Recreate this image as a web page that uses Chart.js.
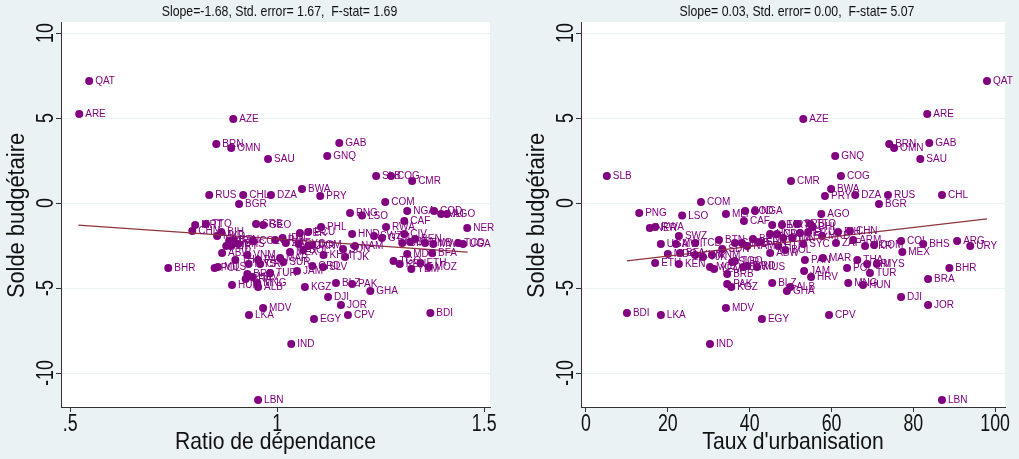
<!DOCTYPE html>
<html>
<head>
<meta charset="utf-8">
<script src="https://cdn.jsdelivr.net/npm/chart.js@4.4.0/dist/chart.umd.min.js"></script>
<style>
html, body { margin: 0; padding: 0; background: #EAF2F3; }
#wrap { position: relative; width: 1019px; height: 459px; overflow: hidden; }
canvas { position: absolute; top: 0; }
#c1 { left: 0; }
#c2 { left: 510px; }
</style>
</head>
<body>
<div id="wrap">
  <canvas id="c1" width="510" height="459"></canvas>
  <canvas id="c2" width="509" height="459"></canvas>
</div>
<script>
// pays (codes ISO)
const codes = ['QAT','ARE','AZE','BRN','OMN','GAB','SAU','GNQ','SLB','COG','CMR','BWA','PRY','RUS','CHL','DZA','BGR','COM','NGA','COD',
  'MLI','AGO','PNG','LSO','CAF','NER','RWA','PHL','MRT','TTO','CHN','BIH','MKD','SRB','GEO','ECU','PER','HND','SWZ','GTM',
  'CIV','BEN','GIN','SEN','ZMB','MWI','TCD','UGA','NAM','SDN','TJK','MDG','BFA','TGO','KEN','YEM','ETH','MOZ','SLV','GRD',
  'JAM','TUR','CRI','MYS','MUS','POL','HRV','BRB','BRA','MNG','HUN','ALB','KGZ','BLZ','PAK','GHA','DJI','JOR','MDV','LKA',
  'EGY','CPV','BDI','IND','LBN','BHR','COL','BHS','ARG','ABW','URY','VNM','THA','PAN','MAR','MEX','BOL','KHM','SUR','ARM',
  'IDN','SYC','DOM','UKR','ZAF','HTI','BTN'];

const ratioDep = [0.546,0.522,0.894,0.853,0.889,1.150,0.978,1.121,1.239,1.275,1.326,1.060,1.104,0.836,0.918,0.985,0.908,1.261,1.314,1.379,
  1.396,1.410,1.176,1.205,1.307,1.459,1.263,1.106,0.802,0.828,0.795,0.865,0.855,0.949,0.966,1.075,1.055,1.181,1.234,1.253,
  1.307,1.333,1.302,1.321,1.357,1.377,1.437,1.449,1.188,1.159,1.164,1.314,1.374,1.281,1.296,1.324,1.346,1.366,1.111,1.085,
  1.048,0.983,0.959,0.931,0.857,0.849,0.940,0.928,0.924,0.952,0.891,0.954,1.067,1.142,1.181,1.225,1.123,1.154,0.966,0.932,
  1.089,1.171,1.370,1.034,0.954,0.737,0.942,0.906,0.884,0.867,0.889,0.928,0.899,0.954,1.007,1.031,1.063,1.112,1.015,0.995,
  1.013,1.052,1.085,1.075,1.021,0.877,0.894];

const tauxUrb = [98.0,83.4,53.1,74.1,75.3,83.9,81.7,60.9,5.1,62.3,50.1,59.9,58.4,73.8,87.0,65.8,71.6,28.1,41.3,38.9,
  34.2,57.5,13.0,23.5,38.6,15.6,16.9,55.3,47.9,54.8,64.5,61.6,57.7,51.8,45.5,54.3,52.3,45.0,22.7,48.2,
  46.7,40.8,36.4,42.5,38.1,22.0,26.7,18.3,39.4,33.3,28.6,20.0,23.0,36.4,22.7,31.3,16.9,30.3,38.4,39.4,
  53.3,69.4,68.7,71.1,41.8,63.8,55.0,34.5,83.6,64.1,67.7,49.9,35.5,45.5,34.5,49.1,77.0,83.6,34.2,18.3,
  43.0,59.4,10.0,30.3,87.0,88.8,77.0,82.4,90.7,45.0,93.9,30.8,66.3,53.5,57.9,77.3,48.7,26.7,35.7,65.3,
  50.4,53.1,70.4,68.2,61.1,47.0,32.5];

const solde = [7.18,5.24,4.94,3.47,3.24,3.53,2.59,2.76,1.59,1.59,1.29,0.82,0.41,0.47,0.47,0.47,-0.06,0.06,-0.47,-0.47,
  -0.65,-0.65,-0.59,-0.74,-1.06,-1.47,-1.41,-1.41,-1.29,-1.24,-1.65,-1.71,-1.94,-1.24,-1.29,-1.71,-1.76,-1.82,-1.94,-2.06,
  -1.82,-2.12,-2.35,-2.29,-2.35,-2.41,-2.35,-2.41,-2.53,-2.71,-3.18,-3.00,-2.94,-3.41,-3.59,-3.88,-3.53,-3.76,-3.76,-3.71,
  -4.00,-4.12,-3.59,-3.59,-3.76,-3.82,-4.35,-4.18,-4.47,-4.71,-4.82,-4.94,-4.94,-4.71,-4.76,-5.18,-5.53,-6.00,-6.18,-6.59,
  -6.82,-6.59,-6.47,-8.29,-11.59,-3.82,-2.24,-2.41,-2.24,-2.94,-2.53,-3.06,-3.35,-3.35,-3.24,-2.88,-2.76,-3.06,-3.47,-2.18,
  -2.06,-2.41,-2.47,-2.53,-2.35,-2.53,-2.18];

// axes
const soldeTicks = [10, 5, 0, -5, -10];
const depTicks = [0.5, 1, 1.5];
const depTickLabels = ['.5', '1', '1.5'];
const urbTicks = [0, 20, 40, 60, 80, 100];
const urbTickLabels = ['0', '20', '40', '60', '80', '100'];

// droites d'ajustement
const fitDep = { slope: -1.68, intercept: -0.43, from: 0.52, to: 1.46 };
const fitUrb = { slope: 0.028, intercept: -3.68, from: 10, to: 98 };

const FONT = 'Arial, "Liberation Sans", Helvetica, sans-serif';
const PURPLE = '#800080';
const MAROON = '#90353B';
const AXIS = '#333333';
const BG = '#EAF2F3';

function txt(ctx, s, x, y, size, sx, rot, align) {
    ctx.save();
    ctx.translate(x, y);
    if (rot) ctx.rotate(rot);
    ctx.scale(sx, 1);
    ctx.font = size + 'px ' + FONT;
    ctx.textAlign = align || 'center';
    ctx.textBaseline = 'middle';
    ctx.fillText(s, 0, 0);
    ctx.restore();
}

const panelText = {
    id: 'panelText',
    beforeDraw(chart) {
        const { ctx, chartArea: a } = chart;
        ctx.save();
        ctx.fillStyle = '#ffffff';
        ctx.fillRect(a.left, a.top, a.right - a.left, a.bottom - a.top);
        ctx.restore();
    },
    afterDatasetsDraw(chart) {
        const ctx = chart.ctx;
        const meta = chart.getDatasetMeta(0);
        ctx.save();
        ctx.fillStyle = PURPLE;
        meta.data.forEach((pt, i) => txt(ctx, codes[i], pt.x + 6, pt.y + 0.5, 10, 1, 0, 'left'));
        ctx.restore();
    },
    afterDraw(chart, args, opts) {
        const { ctx, chartArea: a, scales } = chart;
        ctx.save();
        ctx.fillStyle = '#111';
        soldeTicks.forEach((v) => {
            txt(ctx, String(v), a.left - 15, scales.y.getPixelForValue(v), 24, 0.74, -Math.PI / 2, 'center');
        });
        opts.xTicks.forEach((v, i) => {
            txt(ctx, opts.xTickLabels[i], scales.x.getPixelForValue(v), 424, 24, 0.74, 0, 'center');
        });
        txt(ctx, opts.xTitle, (a.left + a.right) / 2, 442, 24, 0.88, 0, 'center');
        txt(ctx, 'Solde budgétaire', a.left - 43, (a.top + a.bottom) / 2 + 1, 23, 0.95, -Math.PI / 2, 'center');
        txt(ctx, opts.title, (a.left + a.right) / 2 + 4, 12, 15, 0.82, 0, 'center');
        ctx.restore();
    },
};

function fitLine(fit) {
    return [fit.from, fit.to].map((x) => ({ x, y: fit.intercept + fit.slope * x }));
}

function renderPanel(id, xVals, fit, cfg) {
    const canvas = document.getElementById(id);
    new Chart(canvas, {
        type: 'scatter',
        data: {
            datasets: [
                {
                    data: xVals.map((x, i) => ({ x, y: solde[i] })),
                    backgroundColor: PURPLE,
                    borderColor: PURPLE,
                    pointRadius: 4,
                    pointBorderWidth: 0,
                    order: 2,
                },
                {
                    type: 'line',
                    data: fitLine(fit),
                    borderColor: MAROON,
                    borderWidth: 1.3,
                    pointRadius: 0,
                    fill: false,
                    order: 1,
                },
            ],
        },
        options: {
            responsive: false,
            animation: false,
            events: [],
            layout: { padding: { top: 22, right: cfg.padRight, left: 0, bottom: 0 } },
            plugins: {
                legend: { display: false },
                tooltip: { enabled: false },
                panelText: cfg,
            },
            scales: {
                x: {
                    type: 'linear',
                    min: cfg.xMin,
                    max: cfg.xMax,
                    afterBuildTicks: (s) => { s.ticks = cfg.xTicks.map((v) => ({ value: v })); },
                    afterFit: (s) => { s.height = 52; },
                    ticks: { display: false },
                    border: { display: true, color: AXIS, width: 1 },
                    grid: { drawOnChartArea: false, drawTicks: true, tickLength: 5, tickColor: AXIS },
                },
                y: {
                    type: 'linear',
                    min: -12.0,
                    max: 10.65,
                    afterBuildTicks: (s) => { s.ticks = soldeTicks.map((v) => ({ value: v })); },
                    afterFit: (s) => { s.width = cfg.axisLeft; },
                    ticks: { display: false },
                    border: { display: true, color: AXIS, width: 1 },
                    grid: { color: BG, lineWidth: 1, drawTicks: true, tickLength: 5, tickColor: AXIS },
                },
            },
        },
        plugins: [panelText],
    });
}

renderPanel('c1', ratioDep, fitDep, {
    title: 'Slope=-1.68, Std. error= 1.67,  F-stat= 1.69',
    xTitle: 'Ratio de dépendance',
    xTicks: depTicks,
    xTickLabels: depTickLabels,
    xMin: 0.478,
    xMax: 1.514,
    axisLeft: 61,
    padRight: 20,
});

renderPanel('c2', tauxUrb, fitUrb, {
    title: 'Slope= 0.03, Std. error= 0.00,  F-stat= 5.07',
    xTitle: "Taux d'urbanisation",
    xTicks: urbTicks,
    xTickLabels: urbTickLabels,
    xMin: -1.22,
    xMax: 102.4,
    axisLeft: 71,
    padRight: 14,
});
</script>
</body>
</html>
